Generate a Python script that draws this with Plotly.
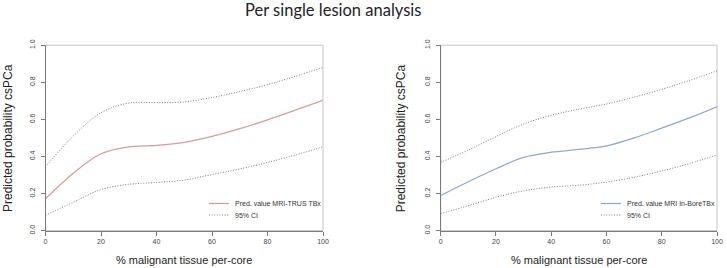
import plotly.graph_objects as go

x_vals = [0, 10, 20, 30, 40, 50, 60, 70, 80, 90, 100]

trus_pred = [0.172, 0.31, 0.415, 0.452, 0.46, 0.476, 0.508, 0.55, 0.598, 0.65, 0.703]
trus_upper = [0.345, 0.51, 0.636, 0.688, 0.69, 0.694, 0.718, 0.75, 0.787, 0.832, 0.88]
trus_lower = [0.083, 0.153, 0.222, 0.25, 0.26, 0.273, 0.303, 0.333, 0.368, 0.408, 0.452]

bore_pred = [0.19, 0.264, 0.334, 0.395, 0.423, 0.438, 0.457, 0.5, 0.553, 0.608, 0.668]
bore_upper = [0.368, 0.435, 0.507, 0.575, 0.622, 0.655, 0.683, 0.72, 0.762, 0.81, 0.862]
bore_lower = [0.092, 0.135, 0.18, 0.215, 0.235, 0.245, 0.262, 0.288, 0.322, 0.362, 0.408]

x_ticks = [0, 20, 40, 60, 80, 100]
y_ticks = [0.0, 0.2, 0.4, 0.6, 0.8, 1.0]
y_tick_text = ["0.0", "0.2", "0.4", "0.6", "0.8", "1.0"]

title_text = "Per single lesion analysis"
x_title = "% malignant tissue per-core"
y_title = "Predicted probability csPCa"
left_pred_name = "Pred. value MRI-TRUS TBx"
right_pred_name = "Pred. value MRI In-BoreTBx"
ci_name = "95% CI"

RED = "#dc9a9a"
BLUE = "#8fa6d4"
CI = "#707070"
CI_DASH = "1px,1.6px"

W, H = 727, 268
fig = go.Figure()

def add_panel(pred, upper, lower, color, pred_name, xa, ya):
    fig.add_trace(go.Scatter(x=x_vals, y=pred, mode="lines", name=pred_name,
                             line=dict(color=color, width=1.3, shape="spline", smoothing=1.0),
                             xaxis=xa, yaxis=ya, showlegend=False))
    fig.add_trace(go.Scatter(x=x_vals, y=upper, mode="lines", name=ci_name,
                             line=dict(color=CI, width=0.9, dash=CI_DASH, shape="spline", smoothing=1.0),
                             xaxis=xa, yaxis=ya, showlegend=False))
    fig.add_trace(go.Scatter(x=x_vals, y=lower, mode="lines", name=ci_name,
                             line=dict(color=CI, width=0.9, dash=CI_DASH, shape="spline", smoothing=1.0),
                             xaxis=xa, yaxis=ya, showlegend=False))

add_panel(trus_pred, trus_upper, trus_lower, RED, left_pred_name, "x", "y")
add_panel(bore_pred, bore_upper, bore_lower, BLUE, right_pred_name, "x2", "y2")

ydom = [(H - 230.7) / H, (H - 45.2) / H]
xdom1 = [45.5 / W, 323 / W]
xdom2 = [440.7 / W, 717 / W]

axis_common = dict(showgrid=False, zeroline=False, showline=True, linecolor="#7a7a7a",
                   linewidth=1, ticks="outside", ticklen=4, tickcolor="#7a7a7a", tickwidth=1,
                   tickfont=dict(family="Liberation Sans, Arial", size=7, color="#444444"))

xaxis_cfg = dict(axis_common, range=[0, 100], tickvals=x_ticks, ticktext=[str(t) for t in x_ticks])
yaxis_cfg = dict(axis_common, range=[0, 1], tickvals=y_ticks, ticktext=y_tick_text, tickangle=-90,
                 ticklabelstandoff=3)

fig.update_layout(
    width=W, height=H, margin=dict(l=0, r=0, t=0, b=0, autoexpand=False),
    paper_bgcolor="white", plot_bgcolor="white",
    xaxis=dict(xaxis_cfg, domain=xdom1, anchor="y"),
    yaxis=dict(yaxis_cfg, domain=ydom, anchor="x"),
    xaxis2=dict(xaxis_cfg, domain=xdom2, anchor="y2"),
    yaxis2=dict(yaxis_cfg, domain=ydom, anchor="x2"),
    showlegend=False,
)

# light frame (top/right) around each panel
for xd in (xdom1, xdom2):
    fig.add_shape(type="rect", xref="paper", yref="paper", x0=xd[0], x1=xd[1], y0=ydom[0], y1=ydom[1],
                  line=dict(color="#c4c4c4", width=1), layer="below")

# legends (drawn manually, compact like the original)
legend_font = dict(family="Liberation Sans, Arial", size=7, color="#333333")
for lx, name, col in ((209, left_pred_name, RED), (601, right_pred_name, BLUE)):
    rows = ((203.5, name, col, None, 1.3), (215, ci_name, CI, "dot", 0.9))
    for ry, txt, c, dash, w in rows:
        fig.add_shape(type="line", xref="paper", yref="paper",
                      x0=lx / W, x1=(lx + 20) / W, y0=(H - ry) / H, y1=(H - ry) / H,
                      line=dict(color=c, width=w, dash=CI_DASH if dash else None))
        fig.add_annotation(text=txt, xref="paper", yref="paper", x=(lx + 24) / W, y=(H - ry) / H,
                           xanchor="left", yanchor="middle", showarrow=False, font=legend_font)

# title
fig.add_annotation(text=title_text, xref="paper", yref="paper", x=333 / W, y=(H - 10) / H,
                   xanchor="center", yanchor="middle",
                   showarrow=False, font=dict(family="Lato, Carlito, sans-serif", size=16.5, color="#222222"))

# axis titles
for cx in ((45.5 + 323) / 2, (440.7 + 717) / 2):
    fig.add_annotation(text=x_title, xref="paper", yref="paper", x=cx / W, y=(H - 260) / H,
                       xanchor="center", yanchor="middle",
                       showarrow=False, font=dict(family="Liberation Sans, Arial", size=11, color="#222222"))
for cx in (8, 401.3):
    fig.add_annotation(text=y_title, xref="paper", yref="paper", x=cx / W, y=(H - 138) / H,
                       xanchor="center", yanchor="middle",
                       textangle=-90, showarrow=False,
                       font=dict(family="Liberation Sans, Arial", size=12, color="#222222"))

fig.write_html("out.html", config={"displayModeBar": False},
               post_script="document.body.style.margin='0';document.body.style.padding='0';")
